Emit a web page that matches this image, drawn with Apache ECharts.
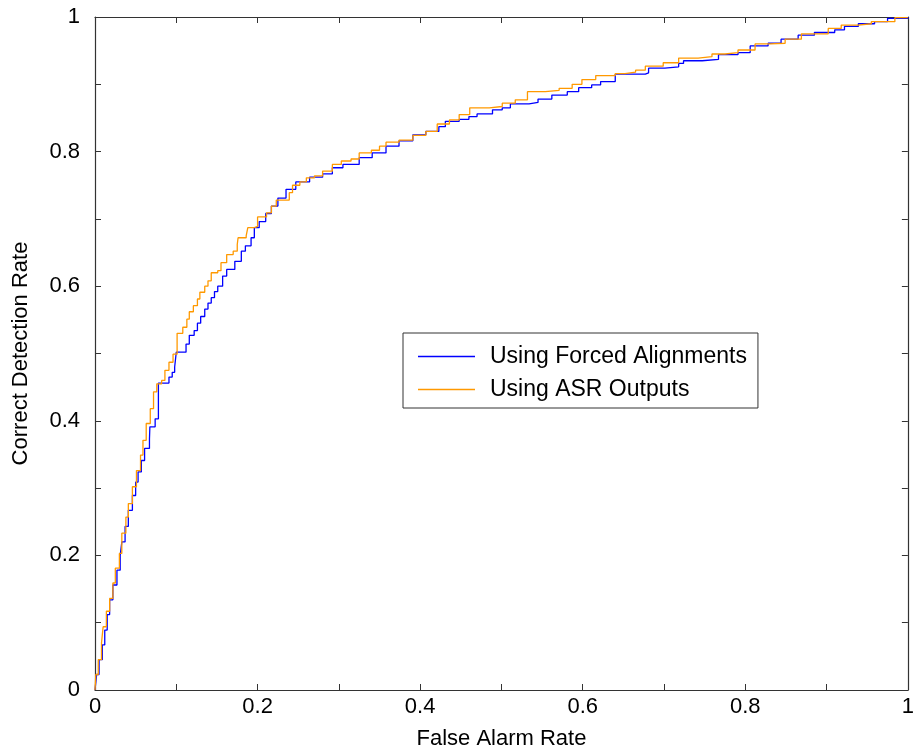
<!DOCTYPE html>
<html>
<head>
<meta charset="utf-8">
<script src="https://cdn.jsdelivr.net/npm/echarts@6/dist/echarts.min.js"></script>
<style>
  html, body { margin: 0; padding: 0; background: #fff; }
  #chart { width: 917px; height: 755px; }
</style>
</head>
<body>
<div id="chart"></div>
<script>
// ROC staircase points: each pair is (false alarm rate at a riser, detection rate at its top)
const falseAlarmForced = [0, 0.002, 0.005, 0.009, 0.012, 0.015, 0.018, 0.022, 0.027, 0.031, 0.033, 0.037, 0.041, 0.046, 0.050, 0.053, 0.057, 0.061, 0.067, 0.0675, 0.074, 0.078, 0.091, 0.095, 0.098, 0.100, 0.112, 0.116, 0.122, 0.126, 0.130, 0.135, 0.139, 0.143, 0.147, 0.151, 0.157, 0.162, 0.172, 0.180, 0.185, 0.192, 0.196, 0.202, 0.210, 0.217, 0.225, 0.235, 0.247, 0.264, 0.280, 0.292, 0.305, 0.325, 0.341, 0.358, 0.374, 0.391, 0.407, 0.423, 0.431, 0.448, 0.460, 0.470, 0.489, 0.501, 0.511, 0.534, 0.545, 0.562, 0.581, 0.595, 0.611, 0.622, 0.640, 0.677, 0.681, 0.701, 0.718, 0.724, 0.747, 0.767, 0.791, 0.806, 0.828, 0.844, 0.865, 0.885, 0.910, 0.922, 0.939, 0.959, 0.975, 1.0];
const detectionForced = [0, 0.023, 0.045, 0.067, 0.089, 0.112, 0.134, 0.156, 0.178, 0.200, 0.220, 0.243, 0.267, 0.289, 0.309, 0.324, 0.341, 0.359, 0.373, 0.391, 0.403, 0.456, 0.465, 0.472, 0.480, 0.502, 0.514, 0.527, 0.534, 0.545, 0.555, 0.566, 0.575, 0.583, 0.592, 0.600, 0.615, 0.625, 0.637, 0.652, 0.660, 0.672, 0.687, 0.696, 0.708, 0.719, 0.731, 0.744, 0.755, 0.762, 0.767, 0.776, 0.781, 0.791, 0.798, 0.808, 0.816, 0.825, 0.830, 0.837, 0.845, 0.848, 0.852, 0.856, 0.862, 0.865, 0.871, 0.873, 0.878, 0.884, 0.889, 0.895, 0.899, 0.904, 0.915, 0.917, 0.924, 0.926, 0.931, 0.935, 0.937, 0.944, 0.947, 0.957, 0.961, 0.967, 0.973, 0.977, 0.981, 0.986, 0.990, 0.993, 0.998, 1.0];

const falseAlarmASR = [0, 0.001, 0.004, 0.008, 0.010, 0.014, 0.018, 0.022, 0.025, 0.030, 0.033, 0.038, 0.041, 0.046, 0.051, 0.056, 0.059, 0.063, 0.068, 0.072, 0.076, 0.082, 0.086, 0.091, 0.096, 0.101, 0.108, 0.113, 0.116, 0.121, 0.126, 0.129, 0.135, 0.139, 0.143, 0.151, 0.155, 0.162, 0.170, 0.175, 0.176, 0.186, 0.188, 0.196, 0.200, 0.211, 0.217, 0.223, 0.239, 0.243, 0.252, 0.260, 0.270, 0.280, 0.292, 0.303, 0.315, 0.325, 0.340, 0.350, 0.358, 0.374, 0.391, 0.407, 0.421, 0.436, 0.448, 0.461, 0.485, 0.501, 0.517, 0.532, 0.554, 0.571, 0.587, 0.599, 0.616, 0.640, 0.652, 0.665, 0.677, 0.699, 0.718, 0.742, 0.759, 0.775, 0.791, 0.812, 0.830, 0.849, 0.869, 0.902, 0.918, 0.939, 0.955, 0.984, 1.0];
const detectionASR = [0, 0.023, 0.045, 0.070, 0.094, 0.117, 0.136, 0.159, 0.181, 0.203, 0.233, 0.257, 0.277, 0.302, 0.326, 0.349, 0.371, 0.396, 0.418, 0.443, 0.455, 0.460, 0.475, 0.487, 0.499, 0.530, 0.539, 0.551, 0.562, 0.571, 0.581, 0.591, 0.600, 0.608, 0.620, 0.623, 0.635, 0.647, 0.652, 0.662, 0.672, 0.675, 0.687, 0.689, 0.703, 0.709, 0.719, 0.728, 0.739, 0.750, 0.755, 0.761, 0.764, 0.771, 0.781, 0.786, 0.789, 0.798, 0.802, 0.808, 0.814, 0.817, 0.824, 0.830, 0.841, 0.847, 0.855, 0.865, 0.867, 0.872, 0.877, 0.889, 0.891, 0.894, 0.900, 0.907, 0.913, 0.916, 0.918, 0.921, 0.927, 0.932, 0.939, 0.941, 0.945, 0.947, 0.951, 0.960, 0.961, 0.967, 0.975, 0.983, 0.988, 0.990, 0.993, 0.999, 1.0];

const seriesNames = ['Using Forced Alignments', 'Using ASR Outputs'];
const seriesColors = ['#0000ff', '#ff9900'];
const axisTitles = { x: 'False Alarm Rate', y: 'Correct Detection Rate' };

const zip = (xs, ys) => xs.map((x, i) => [x, ys[i]]);

// only every second tick (0, 0.2, ... 1) carries a label
const tickLabel = v => {
  const k = Math.round(v * 10);
  if (k % 2 !== 0) return '';
  if (k === 0) return '0';
  if (k === 10) return '1';
  return (k / 10).toFixed(1);
};

// the four axes form a closed frame; ticks point into the plot
const frameLine = { show: true, onZero: false, lineStyle: { color: '#333', width: 1.2 } };
const innerTick = { show: true, inside: true, length: 6, lineStyle: { color: '#333', width: 1 } };
const textFont = { fontFamily: "'Liberation Sans', Arial, Helvetica, sans-serif", color: '#000' };
const FONT_SIZE = 22;

const chart = echarts.init(document.getElementById('chart'), null, { renderer: 'canvas' });

chart.setOption({
  backgroundColor: '#ffffff',
  animation: false,
  grid: { left: 95, right: 7, top: 17, bottom: 63, containLabel: false },
  legend: {
    orient: 'vertical',
    left: 403,
    top: 333,
    data: seriesNames,
    icon: 'rect',
    itemWidth: 57,
    itemHeight: 1.5,
    itemGap: 10,
    padding: [12, 11, 7, 15],
    borderColor: '#333',
    borderWidth: 1,
    backgroundColor: '#fff',
    textStyle: { ...textFont, fontSize: 23, lineHeight: 23, padding: [0, 0, 0, 10] }
  },
  xAxis: [
    {
      type: 'value', min: 0, max: 1, interval: 0.1,
      name: axisTitles.x, nameLocation: 'middle', nameGap: 38,
      nameTextStyle: { ...textFont, fontSize: FONT_SIZE },
      axisLine: frameLine, axisTick: innerTick,
      axisLabel: { ...textFont, fontSize: FONT_SIZE, margin: 6, formatter: tickLabel },
      splitLine: { show: false }
    },
    {
      type: 'value', min: 0, max: 1, interval: 0.1, position: 'top',
      axisLine: frameLine, axisTick: innerTick,
      axisLabel: { show: false }, splitLine: { show: false }
    }
  ],
  yAxis: [
    {
      type: 'value', min: 0, max: 1, interval: 0.1,
      name: axisTitles.y, nameLocation: 'middle', nameGap: 63,
      nameTextStyle: { ...textFont, fontSize: FONT_SIZE },
      axisLine: frameLine, axisTick: innerTick,
      axisLabel: { ...textFont, fontSize: FONT_SIZE, margin: 15, formatter: tickLabel },
      splitLine: { show: false }
    },
    {
      type: 'value', min: 0, max: 1, interval: 0.1, position: 'right',
      axisLine: frameLine, axisTick: innerTick,
      axisLabel: { show: false }, splitLine: { show: false }
    }
  ],
  series: [
    {
      name: seriesNames[0], type: 'line', step: 'end',
      data: zip(falseAlarmForced, detectionForced),
      symbol: 'none', color: seriesColors[0],
      lineStyle: { width: 1.3, color: seriesColors[0] }
    },
    {
      name: seriesNames[1], type: 'line', step: 'end',
      data: zip(falseAlarmASR, detectionASR),
      symbol: 'none', color: seriesColors[1],
      lineStyle: { width: 1.3, color: seriesColors[1] }
    }
  ]
});
</script>
</body>
</html>
